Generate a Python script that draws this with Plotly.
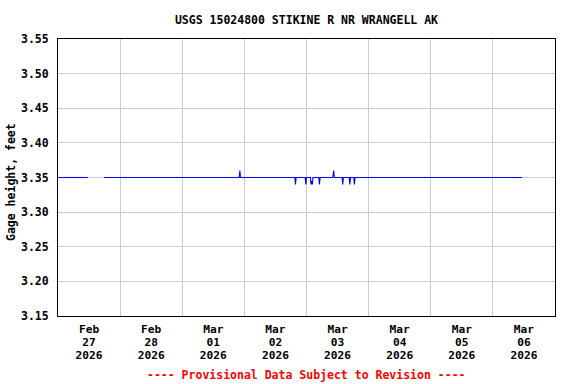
import plotly.graph_objects as go

title_text = "USGS 15024800 STIKINE R NR WRANGELL AK"
y_title = "Gage height, feet"
note_text = "---- Provisional Data Subject to Revision ----"

times = [
    "2026-02-27 00:00", "2026-02-27 11:30", "2026-02-27 14:00", "2026-02-27 17:45",
    "2026-03-01 22:00", "2026-03-01 22:15", "2026-03-01 22:30",
    "2026-03-02 19:30", "2026-03-02 19:45", "2026-03-02 20:00",
    "2026-03-02 23:30", "2026-03-02 23:45", "2026-03-03 00:00",
    "2026-03-03 01:30", "2026-03-03 01:45", "2026-03-03 02:00", "2026-03-03 02:15", "2026-03-03 02:30",
    "2026-03-03 04:45", "2026-03-03 05:00", "2026-03-03 05:15",
    "2026-03-03 10:00", "2026-03-03 10:15", "2026-03-03 10:30", "2026-03-03 10:45",
    "2026-03-03 13:45", "2026-03-03 14:00", "2026-03-03 14:15",
    "2026-03-03 16:30", "2026-03-03 16:45", "2026-03-03 17:00",
    "2026-03-03 18:15", "2026-03-03 18:30", "2026-03-03 18:45",
    "2026-03-06 11:15",
]
gage = [
    3.35, 3.35, None, 3.35,
    3.35, 3.36, 3.35,
    3.35, 3.34, 3.35,
    3.35, 3.34, 3.35,
    3.35, 3.34, 3.345, 3.34, 3.35,
    3.35, 3.34, 3.35,
    3.35, 3.352, 3.36, 3.35,
    3.35, 3.34, 3.35,
    3.35, 3.34, 3.35,
    3.35, 3.34, 3.35,
    3.35,
]

tick_vals = ["2026-02-27 12:00", "2026-02-28 12:00", "2026-03-01 12:00", "2026-03-02 12:00",
             "2026-03-03 12:00", "2026-03-04 12:00", "2026-03-05 12:00", "2026-03-06 12:00"]
tick_month = ["Feb", "Feb", "Mar", "Mar", "Mar", "Mar", "Mar", "Mar"]
tick_day = ["27", "28", "01", "02", "03", "04", "05", "06"]
tick_year = ["2026"] * 8
y_ticks = [3.15, 3.20, 3.25, 3.30, 3.35, 3.40, 3.45, 3.50, 3.55]

FONT = "DejaVu Sans Mono"
X_RANGE = ["2026-02-27 00:00", "2026-03-07 00:00"]

fig = go.Figure()
fig.add_trace(go.Scatter(x=times, y=gage, mode="lines",
                         line=dict(color="#0000ff", width=1.1), connectgaps=False,
                         showlegend=False, hoverinfo="skip"))
# invisible helper traces so the extra label axes are drawn
for ax in ("x2", "x3"):
    fig.add_trace(go.Scatter(x=X_RANGE, y=[None, None], xaxis=ax, mode="lines",
                             showlegend=False, hoverinfo="skip"))


def label_axis(texts, standoff, **extra):
    d = dict(type="date", automargin=False, range=X_RANGE,
             tickmode="array", tickvals=tick_vals, ticktext=texts,
             showgrid=False, ticks="outside", ticklen=standoff,
             tickcolor="rgba(0,0,0,0)", zeroline=False,
             tickfont=dict(family=FONT, size=11.2, weight="bold", color="black"))
    d.update(extra)
    return d


PLOT_L, PLOT_R, PLOT_T, PLOT_B = 58, 555, 39, 316

fig.update_layout(
    width=576, height=384,
    margin=dict(l=PLOT_L, r=576 - PLOT_R, t=PLOT_T, b=384 - PLOT_B),
    paper_bgcolor="white", plot_bgcolor="white",
    font=dict(family=FONT, size=11, color="black", weight="bold"),
    title=dict(text=title_text, x=(PLOT_L + PLOT_R) / 2 / 576, xanchor="center",
               y=1 - 20 / 384, yanchor="middle", yref="container",
               font=dict(family=FONT, size=11.5, color="black", weight="bold")),
    xaxis=label_axis(tick_month, 3,
                     showline=True, linecolor="black", linewidth=1, mirror=True,
                     minor=dict(tickmode="linear", tick0="2026-02-27", dtick=86400000,
                                showgrid=True, gridcolor="#cccccc", gridwidth=1, ticks="")),
    xaxis2=label_axis(tick_day, 16, overlaying="x", side="bottom", anchor="y", showline=False),
    xaxis3=label_axis(tick_year, 29, overlaying="x", side="bottom", anchor="y", showline=False),
    yaxis=dict(
        range=[3.15, 3.55], tickmode="array", tickvals=y_ticks, automargin=False,
        tickformat=".2f", showgrid=True, gridcolor="#cccccc", gridwidth=1,
        ticks="outside", ticklen=6, tickcolor="rgba(0,0,0,0)",
        showline=True, linecolor="black", linewidth=1, mirror=True,
        zeroline=False,
        tickfont=dict(family=FONT, size=11.5, weight="bold"),
    ),
    annotations=[
        dict(text=note_text, xref="paper", yref="paper",
             x=0.5, y=-(375 - PLOT_B) / (PLOT_B - PLOT_T), xanchor="center", yanchor="middle",
             showarrow=False,
             font=dict(family=FONT, size=11.5, color="red", weight="bold")),
        dict(text=y_title, xref="paper", yref="paper", textangle=-90,
             x=(11 - PLOT_L) / (PLOT_R - PLOT_L), y=(PLOT_B - 182) / (PLOT_B - PLOT_T),
             xanchor="center", yanchor="middle", showarrow=False,
             font=dict(family=FONT, size=11.5, color="black", weight="bold")),
    ],
)

fig.write_html("out.html", config={"displayModeBar": False},
               post_script="document.body.style.margin='0px';document.body.style.padding='0px';")
